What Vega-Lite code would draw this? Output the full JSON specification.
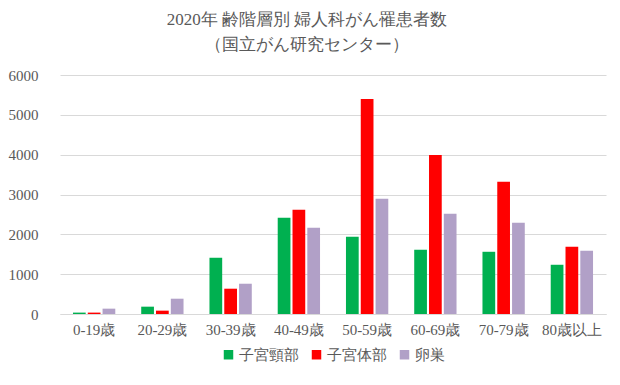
{
  "$schema": "https://vega.github.io/schema/vega-lite/v6.json",
  "width": 620,
  "height": 385,
  "autosize": {"type": "fit", "contains": "padding"},
  "padding": {"left": 8, "right": 14, "top": 11, "bottom": 22},
  "background": "white",
  "title": {
    "text": ["2020年 齢階層別 婦人科がん罹患者数", "（国立がん研究センター）"],
    "anchor": "middle",
    "frame": "bounds",
    "font": "Liberation Serif",
    "fontSize": 17,
    "fontWeight": "normal",
    "color": "#595959",
    "lineHeight": 25,
    "offset": 14
  },
  "data": {
    "values": [
      {"age": "0-19歳", "site": "子宮頸部", "count": 35},
      {"age": "0-19歳", "site": "子宮体部", "count": 35},
      {"age": "0-19歳", "site": "卵巣", "count": 134},
      {"age": "20-29歳", "site": "子宮頸部", "count": 184},
      {"age": "20-29歳", "site": "子宮体部", "count": 84},
      {"age": "20-29歳", "site": "卵巣", "count": 384},
      {"age": "30-39歳", "site": "子宮頸部", "count": 1412},
      {"age": "30-39歳", "site": "子宮体部", "count": 635},
      {"age": "30-39歳", "site": "卵巣", "count": 760},
      {"age": "40-49歳", "site": "子宮頸部", "count": 2414},
      {"age": "40-49歳", "site": "子宮体部", "count": 2615},
      {"age": "40-49歳", "site": "卵巣", "count": 2164},
      {"age": "50-59歳", "site": "子宮頸部", "count": 1938},
      {"age": "50-59歳", "site": "子宮体部", "count": 5397},
      {"age": "50-59歳", "site": "卵巣", "count": 2891},
      {"age": "60-69歳", "site": "子宮頸部", "count": 1612},
      {"age": "60-69歳", "site": "子宮体部", "count": 3993},
      {"age": "60-69歳", "site": "卵巣", "count": 2515},
      {"age": "70-79歳", "site": "子宮頸部", "count": 1562},
      {"age": "70-79歳", "site": "子宮体部", "count": 3317},
      {"age": "70-79歳", "site": "卵巣", "count": 2289},
      {"age": "80歳以上", "site": "子宮頸部", "count": 1236},
      {"age": "80歳以上", "site": "子宮体部", "count": 1688},
      {"age": "80歳以上", "site": "卵巣", "count": 1587}
    ]
  },
  "mark": {"type": "bar"},
  "encoding": {
    "x": {
      "field": "age",
      "type": "nominal",
      "sort": null,
      "title": null,
      "scale": {"paddingInner": 0.38, "paddingOuter": 0.19},
      "axis": {
        "labelAngle": 0,
        "labelFont": "Liberation Serif",
        "labelFontSize": 15,
        "labelColor": "#595959",
        "labelPadding": 8,
        "ticks": false,
        "domainColor": "#d9d9d9",
        "grid": false
      }
    },
    "xOffset": {
      "field": "site",
      "type": "nominal",
      "sort": ["子宮頸部", "子宮体部", "卵巣"],
      "scale": {"paddingInner": 0.14, "paddingOuter": 0}
    },
    "y": {
      "field": "count",
      "type": "quantitative",
      "title": null,
      "scale": {"domain": [0, 6000]},
      "axis": {
        "values": [0, 1000, 2000, 3000, 4000, 5000, 6000],
        "format": "d",
        "labelFont": "Liberation Serif",
        "labelFontSize": 15,
        "labelColor": "#595959",
        "labelPadding": 22,
        "ticks": false,
        "domain": false,
        "gridColor": "#d9d9d9"
      }
    },
    "color": {
      "field": "site",
      "type": "nominal",
      "sort": ["子宮頸部", "子宮体部", "卵巣"],
      "scale": {
        "domain": ["子宮頸部", "子宮体部", "卵巣"],
        "range": ["#00B050", "#FF0000", "#B1A0C7"]
      },
      "legend": {
        "orient": "bottom",
        "direction": "horizontal",
        "title": null,
        "symbolType": "square",
        "symbolSize": 90,
        "symbolStrokeWidth": 0,
        "labelFont": "Liberation Serif",
        "labelFontSize": 15,
        "labelColor": "#595959",
        "labelOffset": 3,
        "columnPadding": 10,
        "offset": 10
      }
    }
  },
  "config": {
    "view": {"stroke": null},
    "legend": {"layout": {"bottom": {"anchor": "middle"}}}
  }
}
